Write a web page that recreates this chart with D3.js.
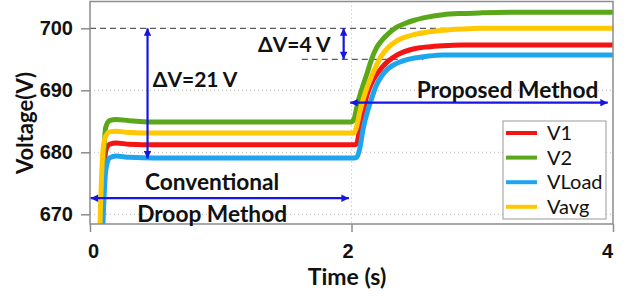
<!DOCTYPE html>
<html>
<head>
<meta charset="utf-8">
<script src="https://cdn.jsdelivr.net/npm/d3@7"></script>
<style>
  body { margin: 0; background: #fff; }
  svg { display: block; font-family: Lato, "DejaVu Sans", sans-serif; }
</style>
</head>
<body>
<svg id="chart" width="633" height="297"></svg>
<script>
// time (s) samples
const time = [0.06, 0.08, 0.1, 0.12, 0.15, 0.2, 0.3, 0.5, 1.0, 1.5, 2.0,
  2.02, 2.04, 2.06, 2.09, 2.12, 2.15, 2.19, 2.23, 2.28, 2.34, 2.4, 2.48, 2.58, 2.7, 2.85, 3.0, 3.3, 3.6, 4.0]

const v1 = [645, 661, 673, 680.2, 681.3, 681.5, 681.3, 681.2, 681.2, 681.2, 681.2,
  681.2, 681.4, 683.4, 686.7, 689.3, 691.0, 692.5, 693.6, 694.7, 695.6, 696.2, 696.7, 697.0, 697.2, 697.3, 697.3, 697.3, 697.3, 697.3]
const v2 = [650, 664, 677, 684.0, 685.1, 685.3, 685.1, 684.9, 684.9, 684.9, 684.9,
  685.4, 687.2, 688.9, 690.9, 692.8, 694.8, 696.8, 698.0, 699.1, 700.1, 700.7, 701.3, 701.8, 702.2, 702.4, 702.5, 702.6, 702.6, 702.6]
const vLoad = [640, 656, 669, 677.0, 679.1, 679.4, 679.2, 679.1, 679.1, 679.1, 679.1,
  679.1, 679.2, 680.3, 683.9, 686.4, 688.4, 690.8, 692.3, 693.5, 694.3, 694.8, 695.2, 695.5, 695.7, 695.7, 695.7, 695.7, 695.7, 695.7]
const vAvg = [655, 671, 680.5, 682.6, 683.3, 683.4, 683.2, 683.1, 683.1, 683.1, 683.1,
  683.2, 684.2, 686.2, 688.6, 690.5, 692.1, 694.0, 695.6, 696.9, 697.9, 698.5, 699.0, 699.4, 699.7, 699.9, 700.0, 700.0, 700.0, 700.0]

const seriesNames = ["V1", "V2", "VLoad", "Vavg"]
const seriesValues = [v1, v2, vLoad, vAvg]
const seriesColors = ["#f51414", "#5aa819", "#1ea5f0", "#ffc800"]

const xTicks = [0, 2, 4]
const yTicks = [670, 680, 690, 700]
const gridY = [670, 680, 690]

const svg = d3.select("#chart")

const x = d3.scaleLinear().domain([0, 4]).range([90, 613])
const y = d3.scaleLinear().domain([670, 700]).range([214.3, 28.3])
const plotTop = 1.5, plotBottom = 224
const arrowBlue = "#1616e0"

const defs = svg.append("defs")
defs.append("clipPath").attr("id", "plotclip")
  .append("rect")
  .attr("x", x(0)).attr("y", plotTop)
  .attr("width", x(4) - x(0)).attr("height", plotBottom - plotTop)

// arrow heads
defs.append("marker")
  .attr("id", "head")
  .attr("viewBox", "0 0 10 10")
  .attr("refX", 10).attr("refY", 5)
  .attr("markerWidth", 4.4).attr("markerHeight", 3.4)
  .attr("orient", "auto-start-reverse")
  .attr("markerUnits", "strokeWidth")
  .append("path")
  .attr("d", "M0,0 L10,5 L0,10 z")
  .attr("fill", arrowBlue)

// grid (dotted)
svg.append("g").selectAll("line")
  .data(gridY)
  .join("line")
  .attr("x1", x(0)).attr("x2", x(4))
  .attr("y1", d => y(d)).attr("y2", d => y(d))
  .attr("stroke", "#b8b8b8").attr("stroke-width", 1)
  .attr("stroke-dasharray", "1,3")
svg.append("line")
  .attr("x1", x(2)).attr("x2", x(2))
  .attr("y1", plotTop).attr("y2", plotBottom)
  .attr("stroke", "#b8b8b8").attr("stroke-width", 1)
  .attr("stroke-dasharray", "1,3")

// dashed reference lines
svg.append("line")
  .attr("x1", x(0)).attr("x2", x(3.0))
  .attr("y1", y(700)).attr("y2", y(700))
  .attr("stroke", "#333").attr("stroke-width", 1)
  .attr("stroke-dasharray", "6,4")
svg.append("line")
  .attr("x1", x(1.62)).attr("x2", x(2.55))
  .attr("y1", y(695)).attr("y2", y(695))
  .attr("stroke", "#333").attr("stroke-width", 1)
  .attr("stroke-dasharray", "6,4")

// the four voltage curves
const line = d3.line()
  .x((d, i) => x(time[i]))
  .y(d => y(d))
  .curve(d3.curveMonotoneX)

svg.append("g")
  .attr("clip-path", "url(#plotclip)")
  .selectAll("path")
  .data(seriesValues)
  .join("path")
  .attr("d", d => line(d))
  .attr("fill", "none")
  .attr("stroke", (d, i) => seriesColors[i])
  .attr("stroke-width", 5)
  .attr("stroke-linejoin", "round")

// frame
svg.append("rect")
  .attr("x", x(0)).attr("y", plotTop)
  .attr("width", x(4) - x(0)).attr("height", plotBottom - plotTop)
  .attr("fill", "none").attr("stroke", "#8c8c8c").attr("stroke-width", 1.5)

// axes
const yAxis = svg.append("g")
  .attr("transform", `translate(${x(0)},0)`)
  .call(d3.axisLeft(y).tickValues(yTicks).tickSize(9).tickPadding(8))
const xAxis = svg.append("g")
  .attr("transform", `translate(0,${plotBottom})`)
  .call(d3.axisBottom(x).tickValues(xTicks).tickFormat(d3.format("d")).tickSize(8).tickPadding(12))
for (const ax of [xAxis, yAxis]) {
  ax.select(".domain").remove()
  ax.selectAll("line").attr("stroke", "#8c8c8c").attr("stroke-width", 1.5)
  ax.selectAll("text")
    .attr("fill", "#111")
    .style("font-size", "20px")
    .style("font-weight", "bold")
}
// the original labels sit a little off their ticks
xAxis.selectAll("text").attr("dx", d => d == 0 ? 3 : (d == 4 ? -6 : -4))

svg.append("text")
  .attr("transform", `translate(33,123) rotate(-90)`)
  .attr("text-anchor", "middle")
  .style("font-size", "22px").style("font-weight", "bold")
  .attr("fill", "#111")
  .text("Voltage(V)")
svg.append("text")
  .attr("x", 347).attr("y", 285)
  .attr("text-anchor", "middle")
  .style("font-size", "23px").style("font-weight", "bold")
  .attr("fill", "#111")
  .text("Time (s)")

// annotation arrows
function arrow(x1, y1, x2, y2, both) {
  const a = svg.append("line")
    .attr("x1", x1).attr("y1", y1).attr("x2", x2).attr("y2", y2)
    .attr("stroke", arrowBlue).attr("stroke-width", 2.2)
    .attr("marker-end", "url(#head)")
  if (both) a.attr("marker-start", "url(#head)")
}
arrow(x(0.44), y(700), x(0.44), y(679), true)
arrow(x(1.94), y(700), x(1.94), y(695), true)
arrow(x(0.005), y(672.6), x(1.98), y(672.6), true)
arrow(x(1.99), y(688.0), x(3.96), y(688.0), true)

function label(txt, cx, cy, anchor, size) {
  svg.append("text")
    .attr("x", cx).attr("y", cy)
    .attr("dy", "0.35em")
    .attr("text-anchor", anchor)
    .style("font-size", size + "px").style("font-weight", "bold")
    .attr("fill", "#111")
    .text(txt)
}
label("ΔV=21 V", x(0.48), y(691.7), "start", 21)
label("ΔV=4 V", x(1.84), y(697.3), "end", 21)
label("Conventional", x(0.934), y(675.26), "middle", 22.7)
label("Droop Method", x(0.934), y(670.05), "middle", 22.7)
label("Proposed Method", x(3.193), y(689.97), "middle", 22.7)

// legend
const lg = svg.append("g").attr("transform", "translate(503,121)")
lg.append("rect")
  .attr("width", 103).attr("height", 98)
  .attr("fill", "#fff").attr("stroke", "#999").attr("stroke-width", 1)
const item = lg.selectAll("g.item")
  .data(seriesNames)
  .join("g")
  .attr("class", "item")
  .attr("transform", (d, i) => `translate(0,${12 + i * 24.6})`)
item.append("line")
  .attr("x1", 3).attr("x2", 34)
  .attr("stroke", (d, i) => seriesColors[i]).attr("stroke-width", 4)
item.append("text")
  .attr("x", 44).attr("dy", "0.35em")
  .style("font-size", "20px")
  .attr("fill", "#111")
  .text(d => d)
</script>
</body>
</html>
